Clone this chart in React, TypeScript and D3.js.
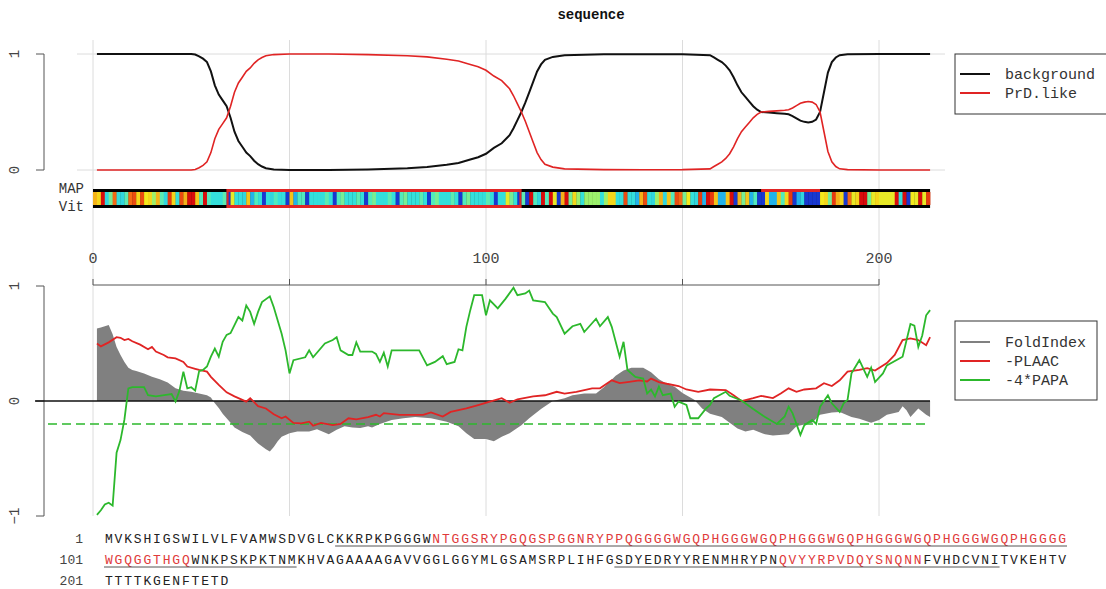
import * as d3 from "d3";

// ---- data ----
const sequence =
  "MVKSHIGSWILVLFVAMWSDVGLCKKRPKPGGGWNTGGSRYPGQGSPGGNRYPPQGGGGWGQPHGGGWGQPHGGGWGQPHGGGWGQPHGGGWGQPHGGGG" +
  "WGQGGTHGQWNKPSKPKTNMKHVAGAAAAGAVVGGLGGYMLGSAMSRPLIHFGSDYEDRYYRENMHRYPNQVYYRPVDQYSNQNNFVHDCVNITVKEHTV" +
  "TTTTKGENFTETD";

const redRanges: [number, number][] = [[35, 109], [171, 185]];
const underlineRanges: [number, number][] = [[25, 120], [154, 193]];
const mapRanges: [number, number][] = [[35, 109], [171, 185]];
const vitRanges: [number, number][] = [[35, 109]];

// per amino acid log-likelihood (prion-like vs background)
const aaScore: Record<string, number> = {
  N: 1.4, Q: 1.3, Y: 0.7, G: 0.45, S: 0.5, P: 0.3, H: 0.15, W: 0.25, M: -0.5,
  A: 0.0, T: -0.3, F: -0.35, R: -0.45, V: -0.4, C: -0.5, I: -0.7, L: -0.8,
  D: -0.85, E: -1.0, K: -1.0,
};

const topPos = [1, 25, 26, 27, 28, 29, 30, 31, 32, 33, 34, 35, 36, 37, 38, 39, 40, 41, 42, 43, 44, 46, 50, 60, 70, 80, 85, 90, 93, 96, 98, 100, 102, 104, 106, 107, 108, 109, 110, 111, 112, 113, 114, 115, 117, 120, 130, 140, 150, 157, 158, 159, 160, 161, 162, 163, 164, 165, 166, 167, 168, 169, 170, 172, 174, 176, 177, 178, 179, 180, 181, 182, 183, 184, 185, 186, 187, 188, 189, 190, 192, 200, 213];
const prdLike = [0, 0, 0.005, 0.02, 0.04, 0.07, 0.15, 0.27, 0.35, 0.4, 0.45, 0.55, 0.67, 0.75, 0.8, 0.85, 0.88, 0.92, 0.95, 0.97, 0.985, 0.995, 1, 1, 0.995, 0.985, 0.975, 0.955, 0.94, 0.91, 0.89, 0.86, 0.81, 0.77, 0.7, 0.64, 0.57, 0.5, 0.42, 0.33, 0.24, 0.15, 0.09, 0.05, 0.025, 0.01, 0.003, 0.002, 0.003, 0.01, 0.03, 0.05, 0.07, 0.1, 0.14, 0.2, 0.27, 0.33, 0.37, 0.41, 0.45, 0.48, 0.5, 0.505, 0.51, 0.515, 0.52, 0.535, 0.555, 0.575, 0.585, 0.59, 0.585, 0.565, 0.5, 0.33, 0.16, 0.07, 0.03, 0.01, 0.003, 0, 0];
const background = [1, 1, 0.995, 0.98, 0.96, 0.93, 0.85, 0.73, 0.65, 0.6, 0.55, 0.45, 0.33, 0.25, 0.2, 0.15, 0.12, 0.08, 0.05, 0.03, 0.015, 0.005, 0, 0, 0.005, 0.015, 0.025, 0.045, 0.06, 0.09, 0.11, 0.14, 0.19, 0.23, 0.3, 0.36, 0.43, 0.5, 0.58, 0.67, 0.76, 0.85, 0.91, 0.95, 0.975, 0.99, 0.997, 0.998, 0.997, 0.99, 0.97, 0.95, 0.93, 0.9, 0.86, 0.8, 0.73, 0.67, 0.63, 0.59, 0.55, 0.52, 0.5, 0.495, 0.49, 0.485, 0.48, 0.465, 0.445, 0.425, 0.415, 0.41, 0.415, 0.435, 0.5, 0.67, 0.84, 0.93, 0.97, 0.99, 0.997, 1, 1];

const foldPos = [1, 2, 3, 4, 5, 6, 7, 8, 9, 10, 11, 13, 15, 17, 19, 21, 23, 25, 27, 29, 30, 31, 32, 33, 34, 35, 36, 38, 40, 42, 44, 45, 46, 47, 48, 50, 52, 55, 57, 60, 62, 64, 66, 68, 70, 71, 73, 76, 79, 82, 86, 90, 93, 95, 97, 100, 102, 104, 106, 109, 111, 114, 117, 120, 122, 125, 128, 130, 133, 135, 137, 140, 142, 144, 146, 148, 150, 153, 155, 157, 160, 162, 164, 166, 168, 171, 173, 177, 179, 183, 185, 188, 190, 193, 195, 198, 200, 202, 205, 206, 207, 208, 210, 212, 213];
const foldIndex = [0.63, 0.64, 0.65, 0.66, 0.58, 0.47, 0.4, 0.34, 0.29, 0.27, 0.26, 0.24, 0.21, 0.19, 0.16, 0.11, 0.09, 0.08, 0.065, 0.05, 0.03, -0.02, -0.06, -0.11, -0.15, -0.19, -0.23, -0.27, -0.3, -0.37, -0.42, -0.44, -0.4, -0.35, -0.31, -0.28, -0.265, -0.265, -0.245, -0.29, -0.25, -0.22, -0.23, -0.235, -0.22, -0.23, -0.2, -0.165, -0.15, -0.14, -0.15, -0.18, -0.22, -0.28, -0.33, -0.33, -0.35, -0.31, -0.28, -0.21, -0.15, -0.07, 0, 0.025, 0.05, 0.065, 0.065, 0.12, 0.22, 0.265, 0.29, 0.29, 0.25, 0.19, 0.15, 0.125, 0.07, 0.01, -0.065, -0.11, -0.14, -0.19, -0.24, -0.265, -0.25, -0.29, -0.3, -0.29, -0.22, -0.19, -0.12, -0.1, -0.095, -0.14, -0.155, -0.19, -0.165, -0.12, -0.095, -0.045, -0.08, -0.14, -0.065, -0.12, -0.14];

const plaacPos = [1, 2, 4, 6, 7, 8, 9, 10, 12, 14, 15, 16, 18, 19, 21, 23, 24, 26, 27, 29, 30, 32, 34, 36, 37, 39, 40, 42, 44, 46, 48, 49, 51, 53, 55, 56, 58, 61, 63, 65, 67, 70, 72, 73, 74, 78, 84, 86, 89, 91, 95, 98, 101, 104, 106, 108, 112, 115, 118, 120, 123, 127, 129, 132, 134, 136, 139, 141, 142, 144, 146, 149, 151, 154, 157, 161, 163, 165, 168, 170, 173, 175, 177, 179, 181, 184, 186, 188, 190, 192, 195, 197, 199, 202, 204, 206, 208, 210, 212, 213];
const negPlaac = [0.5, 0.475, 0.51, 0.555, 0.55, 0.53, 0.54, 0.52, 0.49, 0.45, 0.47, 0.43, 0.4, 0.38, 0.37, 0.34, 0.3, 0.28, 0.27, 0.255, 0.21, 0.14, 0.075, 0.04, 0.025, -0.005, 0.025, -0.045, -0.065, -0.115, -0.15, -0.135, -0.19, -0.195, -0.18, -0.215, -0.19, -0.21, -0.2, -0.15, -0.16, -0.14, -0.12, -0.135, -0.105, -0.12, -0.12, -0.1, -0.135, -0.095, -0.065, -0.035, -0.005, 0.025, -0.015, 0.015, 0.04, 0.05, 0.08, 0.065, 0.08, 0.11, 0.11, 0.18, 0.155, 0.165, 0.18, 0.17, 0.195, 0.165, 0.15, 0.13, 0.1, 0.08, 0.1, 0.095, 0.05, 0, 0.025, 0.045, 0.025, 0.065, 0.11, 0.08, 0.1, 0.11, 0.155, 0.13, 0.18, 0.255, 0.27, 0.285, 0.265, 0.33, 0.4, 0.53, 0.545, 0.53, 0.485, 0.555];

const papaPos = [1, 2, 3, 4, 5, 6, 7, 8, 9, 10, 13, 14, 16, 19, 20, 21, 22, 23, 24, 25, 26, 27, 28, 29, 30, 31, 32, 33, 34, 35, 36, 37, 38, 39, 40, 41, 42, 43, 45, 46, 48, 49, 50, 51, 54, 55, 56, 59, 61, 62, 63, 65, 66, 67, 68, 71, 72, 73, 74, 75, 76, 83, 85, 87, 89, 90, 92, 93, 94, 95, 96, 97, 99, 100, 101, 103, 105, 107, 108, 110, 111, 112, 115, 117, 118, 120, 122, 124, 125, 128, 129, 131, 132, 134, 135, 136, 138, 140, 141, 142, 143, 144, 145, 147, 148, 149, 151, 152, 154, 156, 157, 158, 161, 162, 165, 168, 171, 174, 176, 177, 178, 180, 181, 183, 184, 185, 187, 188, 190, 191, 192, 193, 195, 197, 198, 199, 201, 202, 206, 208, 209, 210, 211, 212, 213];
const negPapa = [-0.99, -0.95, -0.9, -0.885, -0.91, -0.45, -0.34, -0.16, 0.11, 0.12, 0.12, 0.05, 0.04, 0.055, 0.06, -0.005, 0.09, 0.255, 0.11, 0.12, 0.09, 0.26, 0.27, 0.3, 0.385, 0.455, 0.385, 0.515, 0.575, 0.59, 0.66, 0.73, 0.7, 0.83, 0.775, 0.67, 0.775, 0.86, 0.91, 0.815, 0.585, 0.44, 0.24, 0.355, 0.38, 0.44, 0.38, 0.5, 0.53, 0.555, 0.44, 0.4, 0.4, 0.51, 0.43, 0.43, 0.41, 0.34, 0.42, 0.3, 0.44, 0.44, 0.31, 0.34, 0.39, 0.32, 0.34, 0.45, 0.44, 0.645, 0.79, 0.92, 0.92, 0.745, 0.875, 0.805, 0.89, 0.985, 0.92, 0.935, 0.96, 0.875, 0.86, 0.76, 0.73, 0.585, 0.65, 0.67, 0.6, 0.715, 0.65, 0.73, 0.645, 0.385, 0.515, 0.27, 0.21, 0.195, 0.065, 0.1, 0.04, 0.125, 0.05, 0.065, -0.05, -0.005, -0.035, -0.15, -0.15, -0.065, -0.035, 0.025, 0.08, 0.045, 0.005, -0.07, -0.14, -0.2, -0.135, -0.05, -0.105, -0.295, -0.21, -0.165, -0.2, -0.05, 0.05, -0.02, -0.095, -0.02, 0.01, 0.24, 0.355, 0.21, 0.29, 0.165, 0.24, 0.31, 0.385, 0.67, 0.655, 0.47, 0.57, 0.745, 0.79];

const papaThreshold = -0.2;
const xTicks = [0, 50, 100, 150, 200];
const xLabels = [0, 100, 200];

// ---- styling ----
const MONO = "'Liberation Mono', 'DejaVu Sans Mono', monospace";
const RED = "#e02424";
const GREEN = "#2cb82c";
const GRAY = "#808080";

const x = d3.scaleLinear().domain([0, 200]).range([93, 879]);
const yTop = d3.scaleLinear().domain([0, 1]).range([170, 54]);
const yBot = d3.scaleLinear().domain([-1, 1]).range([516, 286]);
const seqX = d3.scaleLinear().domain([0, 100]).range([104, 1067]);

const cellColor = d3
  .scaleLinear<string>()
  .domain([-1.0, -0.7, -0.35, 0.0, 0.4, 0.8, 1.3])
  .range(["#d80c0c", "#f46a14", "#f4e81c", "#9cf06c", "#38e8d8", "#1aa0f0", "#1838d0"])
  .clamp(true);

const pairs = (p: number[], v: number[]) => p.map((d, i) => [d, v[i]] as [number, number]);

const lineTop = d3.line<[number, number]>().x((d) => x(d[0])).y((d) => yTop(d[1]));
const lineBot = d3.line<[number, number]>().x((d) => x(d[0])).y((d) => yBot(d[1]));
const areaFold = d3
  .area<[number, number]>()
  .x((d) => x(d[0]))
  .y0(yBot(0))
  .y1((d) => yBot(d[1]));

const inRanges = (i: number, r: [number, number][]) => r.some(([a, b]) => i >= a && i <= b);

export default function App() {
  const residues = sequence.split("");
  const n = residues.length;
  const rows = d3.range(Math.ceil(n / 100));

  // underline pieces split by row
  const underlines: { row: number; a: number; b: number }[] = [];
  underlineRanges.forEach(([a, b]) => {
    rows.forEach((r) => {
      const s = Math.max(a, r * 100 + 1);
      const e = Math.min(b, r * 100 + 100);
      if (s <= e) underlines.push({ row: r, a: s - r * 100 - 1, b: e - r * 100 });
    });
  });

  const rowBase = (r: number) => 543 + r * 21;

  return (
    <svg
      width={1106}
      height={589}
      style={{ position: "absolute", left: 0, top: 0, background: "#fff" }}
      fontFamily={MONO}
    >
      <rect width={1106} height={589} fill="#fff" />
      <text x={591} y={19} textAnchor="middle" fontSize={14} fontWeight="bold" fill="#111">
        sequence
      </text>

      {/* grid */}
      {xTicks.map((t) => (
        <line key={"g" + t} x1={x(t)} x2={x(t)} y1={40} y2={516} stroke="#dcdcdc" strokeWidth={1} />
      ))}
      {[0, 1].map((v) => (
        <line key={"h" + v} x1={77} x2={945} y1={yTop(v)} y2={yTop(v)} stroke="#dcdcdc" strokeWidth={1} />
      ))}

      {/* top left axis */}
      <line x1={44} x2={44} y1={yTop(0)} y2={yTop(1)} stroke="#555" />
      {[0, 1].map((v) => (
        <g key={"ta" + v}>
          <line x1={36} x2={44} y1={yTop(v)} y2={yTop(v)} stroke="#555" />
          <text
            transform={`translate(19,${yTop(v)}) rotate(-90)`}
            textAnchor="middle"
            fontSize={14}
            fill="#444"
          >
            {v}
          </text>
        </g>
      ))}

      {/* top curves */}
      <path d={lineTop(pairs(topPos, background))!} fill="none" stroke="#111" strokeWidth={2} />
      <path d={lineTop(pairs(topPos, prdLike))!} fill="none" stroke={RED} strokeWidth={1.6} />

      {/* top legend */}
      <rect x={955} y={54} width={170} height={60} fill="#fff" stroke="#333" />
      {[
        { label: "background", color: "#111" },
        { label: "PrD.like", color: RED },
      ].map((d, i) => (
        <g key={d.label} transform={`translate(960,${74 + i * 19})`}>
          <line x1={0} x2={30} y1={0} y2={0} stroke={d.color} strokeWidth={2} />
          <text x={45} y={5} fontSize={15} fill="#333">
            {d.label}
          </text>
        </g>
      ))}

      {/* MAP / Vit bar */}
      <text x={84} y={193} textAnchor="end" fontSize={14} fill="#333">MAP</text>
      <text x={84} y={211} textAnchor="end" fontSize={14} fill="#333">Vit</text>
      <rect x={x(0)} y={189} width={x(n) - x(0)} height={19} fill="#000" />
      {residues.map((aa, i) => (
        <rect
          key={"c" + i}
          x={x(i)}
          y={192}
          width={x(i + 1) - x(i) + 0.3}
          height={13}
          fill={cellColor(aaScore[aa] ?? 0)}
        />
      ))}
      {mapRanges.map(([a, b]) => (
        <rect key={"m" + a} x={x(a - 1)} y={189} width={x(b) - x(a - 1)} height={3} fill={RED} />
      ))}
      {vitRanges.map(([a, b]) => (
        <g key={"v" + a}>
          <rect x={x(a - 1)} y={205} width={x(b) - x(a - 1)} height={3} fill={RED} />
          <rect x={x(a - 1)} y={189} width={2} height={19} fill={RED} />
          <rect x={x(b) - 2} y={189} width={2} height={19} fill={RED} />
        </g>
      ))}

      {/* x axis between panels */}
      <line x1={x(0)} x2={x(200)} y1={285} y2={285} stroke="#555" />
      {xTicks.map((t) => (
        <line key={"xt" + t} x1={x(t)} x2={x(t)} y1={285} y2={279} stroke="#555" />
      ))}
      {xLabels.map((t) => (
        <text key={"xl" + t} x={x(t)} y={263} textAnchor="middle" fontSize={15} fill="#444">
          {t}
        </text>
      ))}

      {/* bottom left axis */}
      <line x1={44} x2={44} y1={yBot(-1)} y2={yBot(1)} stroke="#555" />
      {[-1, 0, 1].map((v) => (
        <g key={"ba" + v}>
          <line x1={36} x2={44} y1={yBot(v)} y2={yBot(v)} stroke="#555" />
          <text
            transform={`translate(19,${yBot(v)}) rotate(-90)`}
            textAnchor="middle"
            fontSize={14}
            fill="#444"
          >
            {v === -1 ? "\u22121" : v}
          </text>
        </g>
      ))}

      {/* bottom panel */}
      <path d={areaFold(pairs(foldPos, foldIndex))!} fill={GRAY} stroke="none" />
      <line x1={35} x2={930} y1={yBot(0)} y2={yBot(0)} stroke="#111" strokeWidth={1.3} />
      <line
        x1={48}
        x2={930}
        y1={yBot(papaThreshold)}
        y2={yBot(papaThreshold)}
        stroke={GREEN}
        strokeWidth={1.5}
        strokeDasharray="9,5"
      />
      <path d={lineBot(pairs(plaacPos, negPlaac))!} fill="none" stroke={RED} strokeWidth={1.8} />
      <path d={lineBot(pairs(papaPos, negPapa))!} fill="none" stroke={GREEN} strokeWidth={1.8} />

      {/* bottom legend */}
      <rect x={955} y={321} width={142} height={79} fill="#fff" stroke="#333" />
      {[
        { label: "FoldIndex", color: GRAY },
        { label: "-PLAAC", color: RED },
        { label: "-4*PAPA", color: GREEN },
      ].map((d, i) => (
        <g key={d.label} transform={`translate(960,${342 + i * 19})`}>
          <line x1={0} x2={30} y1={0} y2={0} stroke={d.color} strokeWidth={2} />
          <text x={45} y={5} fontSize={15} fill="#333">
            {d.label}
          </text>
        </g>
      ))}

      {/* sequence text */}
      {rows.map((r) => (
        <text key={"rn" + r} x={83} y={rowBase(r)} textAnchor="end" fontSize={13} fill="#444">
          {r * 100 + 1}
        </text>
      ))}
      {residues.map((aa, i) => {
        const r = Math.floor(i / 100);
        const c = i % 100;
        return (
          <text
            key={"s" + i}
            x={seqX(c) + 4.8}
            y={rowBase(r)}
            textAnchor="middle"
            fontSize={13}
            fill={inRanges(i + 1, redRanges) ? "#e03a3a" : "#222"}
          >
            {aa}
          </text>
        );
      })}
      {underlines.map((u, i) => (
        <line
          key={"u" + i}
          x1={seqX(u.a)}
          x2={seqX(u.b)}
          y1={rowBase(u.row) + 3}
          y2={rowBase(u.row) + 3}
          stroke="#555"
          strokeWidth={1}
        />
      ))}
    </svg>
  );
}
